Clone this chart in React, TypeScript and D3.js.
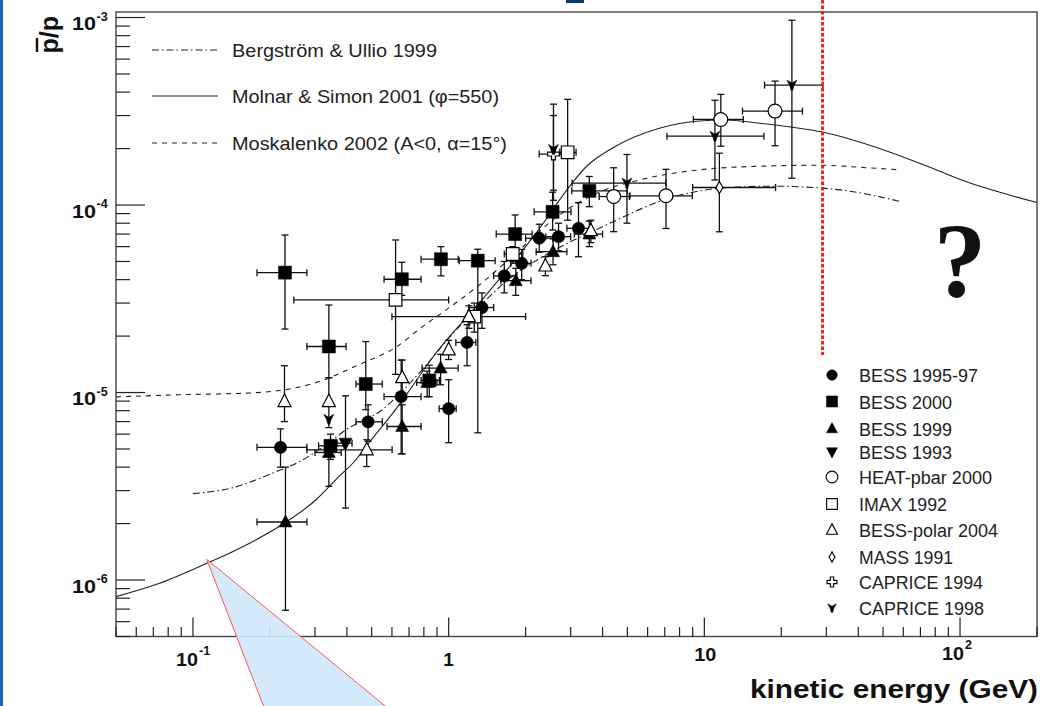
import React from 'react';
import * as d3 from 'd3';

const W = 1040;
const H = 706;
const X_DOMAIN = [0.05, 200];
const Y_DOMAIN = [5e-7, 1.07e-3];

// model curves: [kinetic energy (GeV), pbar/p]
const bergstromUllio = [
  [0.1, 2.89e-6], [0.142, 3.1e-6], [0.211, 3.78e-6], [0.26, 4.27e-6], [0.311, 4.95e-6],
  [0.408, 6.49e-6], [0.55, 8.1e-6], [0.682, 1.07e-5], [0.787, 1.32e-5], [1.05, 2.1e-5],
  [1.4, 3.12e-5], [1.8, 4.24e-5], [2.32, 5.28e-5], [4.36, 8.1e-5], [6.48, 1.03e-4],
  [8.74, 1.16e-4], [11.5, 1.23e-4], [18.4, 1.26e-4], [29, 1.23e-4], [39.4, 1.17e-4], [59, 1.04e-4],
];
const molnarSimon = [
  [0.05, 8.16e-7], [0.0716, 9.46e-7], [0.112, 1.22e-6], [0.151, 1.47e-6], [0.229, 2.02e-6],
  [0.303, 2.68e-6], [0.372, 3.56e-6], [0.434, 4.38e-6], [0.475, 5.14e-6], [0.64, 8.6e-6],
  [0.893, 1.63e-5], [1.35, 3.12e-5], [2.2, 7.1e-5], [3.04, 1.31e-4], [3.45, 1.6e-4],
  [4.36, 2.01e-4], [6.67, 2.57e-4], [9.31, 2.8e-4], [12.2, 2.84e-4], [16.4, 2.73e-4],
  [22.1, 2.6e-4], [29, 2.45e-4], [40.4, 2.17e-4], [53, 1.92e-4], [78, 1.57e-4],
  [106, 1.33e-4], [143, 1.17e-4], [200, 1.03e-4],
];
const moskalenko = [
  [0.05, 9.48e-6], [0.088, 9.73e-6], [0.173, 9.97e-6], [0.303, 1.13e-5], [0.447, 1.41e-5],
  [0.624, 1.75e-5], [0.788, 2.24e-5], [0.978, 2.76e-5], [1.32, 3.75e-5], [1.89, 5.76e-5],
  [2.71, 8.85e-5], [3.88, 1.17e-4], [5.57, 1.36e-4], [9.55, 1.54e-4], [16.4, 1.61e-4],
  [29, 1.63e-4], [40.4, 1.59e-4], [58, 1.54e-4],
];

// measurements: [E, pbar/p, E low, E high, pbar/p low, pbar/p high]
const bess9597 = [
  [0.22, 5.1e-6, 0.178, 0.279, 4.0e-6, 6.4e-6],
  [0.484, 6.98e-6, 0.434, 0.55, 5.5e-6, 8.6e-6],
  [0.652, 9.5e-6, 0.559, 0.78, 4.71e-6, 1.49e-5],
  [1.0, 8.2e-6, 0.918, 1.07, 5.4e-6, 1.17e-5],
  [1.18, 1.85e-5, 1.067, 1.277, 1.39e-5, 2.3e-5],
  [1.35, 2.84e-5, 1.2, 1.5, 2.2e-5, 3.4e-5],
  [1.65, 4.19e-5, 1.5, 1.85, 3.4e-5, 5.0e-5],
  [1.93, 4.89e-5, 1.75, 2.1, 4.0e-5, 5.8e-5],
  [2.26, 6.65e-5, 2.0, 2.55, 5.6e-5, 7.9e-5],
  [2.69, 6.78e-5, 2.4, 3.0, 5.7e-5, 8.0e-5],
  [3.22, 7.51e-5, 2.9, 3.6, 5.3e-5, 1.03e-4],
];
const bess2000 = [
  [0.229, 4.36e-5, 0.178, 0.279, 2.18e-5, 6.92e-5],
  [0.34, 1.76e-5, 0.279, 0.397, 1.2e-5, 2.93e-5],
  [0.345, 5.2e-6, 0.31, 0.39, 4.4e-6, 6.0e-6],
  [0.474, 1.11e-5, 0.434, 0.55, 8.1e-6, 1.87e-5],
  [0.656, 4.02e-5, 0.559, 0.78, 3.3e-5, 4.95e-5],
  [0.84, 1.16e-5, 0.78, 0.92, 9.5e-6, 1.4e-5],
  [0.933, 5.14e-5, 0.78, 1.09, 4.19e-5, 6.0e-5],
  [1.3, 5.05e-5, 1.1, 1.52, 6.1e-6, 5.81e-5],
  [1.82, 7.0e-5, 1.535, 2.12, 5.76e-5, 8.85e-5],
  [2.55, 9.2e-5, 2.16, 3.01, 7.36e-5, 1.17e-4],
  [3.55, 1.19e-4, 3.03, 5.0, 9.8e-5, 1.42e-4],
];
const bess1999 = [
  [0.23, 2.04e-6, 0.178, 0.279, 6.9e-7, 4.0e-6],
  [0.34, 4.79e-6, 0.3, 0.38, 3.16e-6, 5.5e-6],
  [0.658, 6.59e-6, 0.574, 0.78, 4.71e-6, 8.6e-6],
  [0.824, 1.13e-5, 0.75, 0.9, 9.5e-6, 1.3e-5],
  [0.93, 1.35e-5, 0.787, 1.089, 1.1e-5, 1.6e-5],
  [1.83, 3.95e-5, 1.6, 2.1, 3.3e-5, 4.6e-5],
  [2.56, 5.64e-5, 2.2, 2.9, 4.8e-5, 6.6e-5],
  [3.55, 7.0e-5, 3.1, 4.0, 6.0e-5, 8.2e-5],
];
const bess1993 = [
  [0.395, 5.37e-6, 0.366, 0.419, 2.42e-6, 9.6e-6],
];
const heatPbar = [
  [4.42, 1.11e-4, 3.88, 5.09, 7.21e-5, 1.58e-4],
  [7.08, 1.12e-4, 5.12, 8.97, 7.5e-5, 1.55e-4],
  [11.6, 2.86e-4, 9.06, 14.2, 2.06e-4, 3.89e-4],
  [18.9, 3.17e-4, 14.1, 24.2, 2.07e-4, 4.58e-4],
];
const imax1992 = [
  [0.62, 3.12e-5, 0.248, 1.0, 1.25e-5, 6.51e-5],
  [1.26, 2.54e-5, 0.6, 2.0, 2.1e-5, 3.0e-5],
  [1.78, 5.48e-5, 1.65, 1.95, 5.0e-5, 6.0e-5],
  [2.92, 1.91e-4, 2.72, 3.15, 8.3e-5, 3.66e-4],
];
const bessPolar = [
  [0.228, 8.95e-6, 0.228, 0.228, 7.0e-6, 1.39e-5],
  [0.34, 8.95e-6, 0.34, 0.34, 6.5e-6, 1.2e-5],
  [0.478, 4.95e-6, 0.279, 0.601, 4.03e-6, 5.6e-6],
  [0.658, 1.2e-5, 0.658, 0.658, 9.5e-6, 1.49e-5],
  [1.0, 1.69e-5, 1.0, 1.0, 1.5e-5, 1.9e-5],
  [1.2, 2.54e-5, 1.2, 1.2, 2.2e-5, 2.9e-5],
  [2.39, 4.73e-5, 2.39, 2.39, 4.2e-5, 5.3e-5],
  [3.6, 7.3e-5, 3.6, 3.6, 6.3e-5, 8.3e-5],
];
const mass1991 = [
  [11.45, 1.24e-4, 9.0, 19.0, 7.2e-5, 1.89e-4],
];
const caprice1994 = [
  [2.57, 1.87e-4, 2.26, 3.04, 1.2e-4, 3.0e-4],
];
const caprice1998 = [
  [0.34, 7.2e-6, 0.34, 0.34, 7.2e-6, 7.2e-6],
  [2.57, 1.98e-4, 2.57, 2.57, 1.06e-4, 3.45e-4],
  [4.98, 1.31e-4, 3.04, 7.08, 8.0e-5, 1.86e-4],
  [11.0, 2.33e-4, 7.14, 17.1, 1.36e-4, 3.62e-4],
  [22.0, 4.36e-4, 17.2, 29.1, 1.39e-4, 9.67e-4],
];

const SERIES = [
  { name: 'BESS 1995-97', marker: 'circle', data: bess9597, legendY: 375, textW: 119 },
  { name: 'BESS 2000', marker: 'square', data: bess2000, legendY: 401.5, textW: 93 },
  { name: 'BESS 1999', marker: 'triUp', data: bess1999, legendY: 428.5, textW: 93 },
  { name: 'BESS 1993', marker: 'triDown', data: bess1993, legendY: 452, textW: 93 },
  { name: 'HEAT-pbar 2000', marker: 'circleOpen', data: heatPbar, legendY: 477, textW: 133 },
  { name: 'IMAX 1992', marker: 'squareOpen', data: imax1992, legendY: 504, textW: 88 },
  { name: 'BESS-polar 2004', marker: 'triUpOpen', data: bessPolar, legendY: 530, textW: 139 },
  { name: 'MASS 1991', marker: 'diamondOpen', data: mass1991, legendY: 557, textW: 94 },
  { name: 'CAPRICE 1994', marker: 'crossOpen', data: caprice1994, legendY: 582, textW: 124 },
  { name: 'CAPRICE 1998', marker: 'star', data: caprice1998, legendY: 608, textW: 125 },
];

const MODELS = [
  { name: 'Bergström & Ullio 1999', data: bergstromUllio, dash: '7 3 1.5 3', legendY: 50, textW: 205 },
  { name: 'Molnar & Simon 2001 (φ=550)', data: molnarSimon, dash: null, legendY: 96, textW: 267 },
  { name: 'Moskalenko 2002 (A<0, α=15°)', data: moskalenko, dash: '5 5', legendY: 143, textW: 275 },
];

const RED_LINE_E = 29;
const SANS = '"Liberation Sans", Arial, Helvetica, sans-serif';

function markerShape(kind: string, s = 1) {
  const sym = (t: any, area: number) => d3.symbol().type(t).size(area * s * s)();
  switch (kind) {
    case 'circle': return { d: sym(d3.symbolCircle, 120), fill: '#000' };
    case 'square': return { d: sym(d3.symbolSquare, 170), fill: '#000' };
    case 'triUp': return { d: `M0,${-7 * s}L${6.5 * s},${5 * s}L${-6.5 * s},${5 * s}Z`, fill: '#000' };
    case 'triDown': return { d: `M0,${7 * s}L${6.5 * s},${-5 * s}L${-6.5 * s},${-5 * s}Z`, fill: '#000' };
    case 'circleOpen': return { d: sym(d3.symbolCircle, 150), fill: '#fff' };
    case 'squareOpen': return { d: sym(d3.symbolSquare, 160), fill: '#fff' };
    case 'triUpOpen': return { d: `M0,${-7.5 * s}L${6.5 * s},${5 * s}L${-6.5 * s},${5 * s}Z`, fill: '#fff' };
    case 'diamondOpen': return { d: `M0,${-6 * s}L${3.5 * s},0L0,${6 * s}L${-3.5 * s},0Z`, fill: '#fff' };
    case 'crossOpen': return { d: sym(d3.symbolCross, 75), fill: '#fff' };
    case 'star': return {
      d: `M${-5 * s},${-5 * s}L0,${-2 * s}L${5 * s},${-5 * s}L${2 * s},${1 * s}L${1 * s},${5 * s}L${-1 * s},${5 * s}L${-2 * s},${1 * s}Z`,
      fill: '#000',
    };
    default: return { d: sym(d3.symbolCircle, 100), fill: '#000' };
  }
}

export default function App() {
  const x = d3.scaleLog().domain(X_DOMAIN).range([116, 1037]);
  const y = d3.scaleLog().domain(Y_DOMAIN).range([636.5, 12]);
  const line = d3.line<number[]>().x(d => x(d[0])).y(d => y(d[1])).curve(d3.curveMonotoneX);

  const isMajor = (t: number) => Math.abs(Math.log10(t) - Math.round(Math.log10(t))) < 1e-6;
  const xTicks = x.ticks();
  const yTicks = y.ticks();
  const left = x.range()[0];
  const right = x.range()[1];
  const bottom = y.range()[0];
  const top = y.range()[1];
  const cap = 3.5;

  const xLabels = [
    { v: 0.1, base: '10', exp: '-1', baseY: 666, expY: 655, dx: 5 },
    { v: 1, base: '1', exp: '', baseY: 666, expY: 0, dx: 0 },
    { v: 10, base: '10', exp: '', baseY: 661, expY: 0, dx: 1 },
    { v: 100, base: '10', exp: '2', baseY: 660, expY: 649, dx: 4 },
  ];

  return (
    <div style={{ position: 'fixed', left: 0, top: 0, width: W, height: H, background: '#fff' }}>
      <svg width={W} height={H} viewBox={`0 0 ${W} ${H}`} style={{ display: 'block' }}>
        <rect x={0} y={0} width={W} height={H} fill="#fff" />
        {/* slide remnants */}
        <rect x={0} y={0} width={3} height={H} fill="#1565c0" />
        <rect x={566} y={0} width={18} height={3} fill="#0b3a78" />

        {/* frame */}
        <rect x={left} y={top} width={right - left} height={bottom - top} fill="none" stroke="#444" strokeWidth={1.4} />

        {/* x ticks */}
        {xTicks.map((t, i) => (
          <line key={'xt' + i} x1={x(t)} x2={x(t)} y1={bottom} y2={bottom - (isMajor(t) ? 19 : 9.5)} stroke="#222" strokeWidth={1.2} />
        ))}
        {/* y ticks */}
        {yTicks.map((t, i) => (
          <line key={'yt' + i} x1={left} x2={left + (isMajor(t) ? 29 : 14)} y1={y(t)} y2={y(t)} stroke="#222" strokeWidth={1.2} />
        ))}

        {/* x tick labels */}
        {xLabels.map((l, i) => (
          <g key={'xl' + i} fontFamily={SANS} fontWeight="bold" fill="#111">
            <text x={x(l.v) + l.dx} y={l.baseY} fontSize={19} textAnchor={l.exp ? 'end' : 'middle'}
              textLength={l.base.length === 2 ? 22 : undefined} lengthAdjust="spacingAndGlyphs">{l.base}</text>
            {l.exp && <text x={x(l.v) + l.dx + 1} y={l.expY} fontSize={12.5}>{l.exp}</text>}
          </g>
        ))}
        {/* y tick labels */}
        {yTicks.filter(isMajor).map((t, i) => {
          const e = Math.round(Math.log10(t));
          return (
            <g key={'yl' + i} fontFamily={SANS} fontWeight="bold" fill="#111">
              <text x={96} y={y(t) + 12.5} fontSize={19} textAnchor="end"
                textLength={24} lengthAdjust="spacingAndGlyphs">10</text>
              <text x={96.5} y={y(t) + 3} fontSize={12.5}>{String(e)}</text>
            </g>
          );
        })}

        {/* axis titles */}
        <text x={1038} y={698} fontFamily={SANS} fontWeight="bold" fontSize={25} textAnchor="end"
          textLength={288} lengthAdjust="spacingAndGlyphs" fill="#111">kinetic energy (GeV)</text>
        <g transform="translate(58,16) rotate(-90)" fontFamily={SANS} fontWeight="bold" fill="#111">
          <text x={0} y={0} fontSize={25} textAnchor="end">p/p</text>
          <line x1={-36} x2={-22} y1={-21} y2={-21} stroke="#111" strokeWidth={2.4} />
        </g>

        {/* model curves */}
        {MODELS.map(m => (
          <path key={m.name} d={line(m.data) || ''} fill="none" stroke="#222" strokeWidth={1.1}
            strokeDasharray={m.dash || undefined} />
        ))}

        {/* error bars */}
        {SERIES.map(s => (
          <g key={'eb' + s.name} stroke="#111" strokeWidth={1.3}>
            {s.data.map((d, i) => {
              const cx = x(d[0]);
              const cy = y(d[1]);
              const x0 = x(d[2]);
              const x1 = x(d[3]);
              const y0 = y(d[4]);
              const y1 = y(d[5]);
              return (
                <g key={i}>
                  {x1 - x0 > 2 && (
                    <>
                      <line x1={x0} x2={x1} y1={cy} y2={cy} />
                      <line x1={x0} x2={x0} y1={cy - cap} y2={cy + cap} />
                      <line x1={x1} x2={x1} y1={cy - cap} y2={cy + cap} />
                    </>
                  )}
                  {y0 - y1 > 2 && (
                    <>
                      <line x1={cx} x2={cx} y1={y0} y2={y1} />
                      <line x1={cx - cap} x2={cx + cap} y1={y0} y2={y0} />
                      <line x1={cx - cap} x2={cx + cap} y1={y1} y2={y1} />
                    </>
                  )}
                </g>
              );
            })}
          </g>
        ))}

        {/* markers */}
        {SERIES.map(s => {
          const m = markerShape(s.marker);
          return (
            <g key={'mk' + s.name}>
              {s.data.map((d, i) => (
                <path key={i} d={m.d || ''} transform={`translate(${x(d[0])},${y(d[1])})`}
                  fill={m.fill} stroke="#000" strokeWidth={m.fill === '#fff' ? 1.2 : 0.5} />
              ))}
            </g>
          );
        })}

        {/* model legend */}
        {MODELS.map(m => (
          <g key={'ml' + m.name}>
            <line x1={152} x2={218} y1={m.legendY} y2={m.legendY} stroke="#222" strokeWidth={1.1}
              strokeDasharray={m.dash || undefined} />
            <text x={232} y={m.legendY + 7} fontFamily={SANS} fontSize={18.5} fill="#222"
              textLength={m.textW} lengthAdjust="spacingAndGlyphs">{m.name}</text>
          </g>
        ))}

        {/* data legend */}
        {SERIES.map(s => {
          const m = markerShape(s.marker, 0.85);
          return (
            <g key={'dl' + s.name}>
              <path d={m.d || ''} transform={`translate(832,${s.legendY})`} fill={m.fill} stroke="#000"
                strokeWidth={m.fill === '#fff' ? 1.1 : 0.5} />
              <text x={859} y={s.legendY + 7} fontFamily={SANS} fontSize={18} fill="#222"
                textLength={s.textW} lengthAdjust="spacingAndGlyphs">{s.name}</text>
            </g>
          );
        })}

        {/* annotations */}
        <line x1={x(RED_LINE_E)} x2={x(RED_LINE_E)} y1={0} y2={355} stroke="#ff1a1a" strokeWidth={3}
          strokeDasharray="3.5 2" />
        <text x={960} y={297} fontFamily={'"Liberation Serif", "DejaVu Serif", serif'} fontWeight="bold"
          fontSize={105} textAnchor="middle" fill="#111">?</text>
        <polygon points="206.7,559.3 272,728 412,728" fill="#cfe8fa" fillOpacity={0.9} stroke="#ff5555" strokeWidth={1} />
      </svg>
    </div>
  );
}
